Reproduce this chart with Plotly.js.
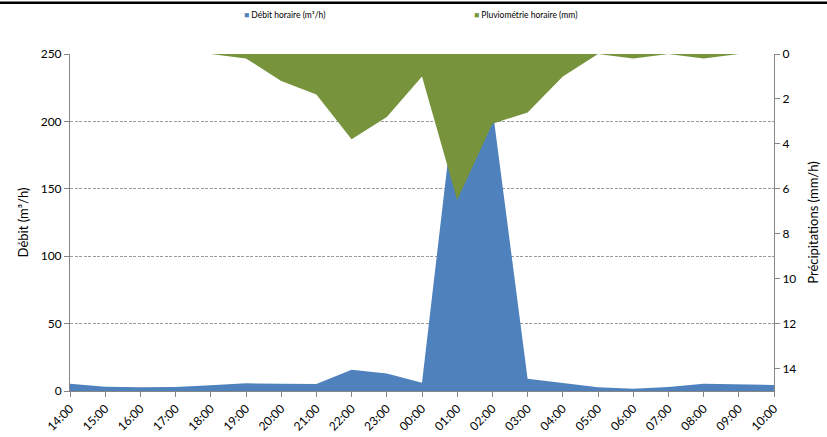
<!DOCTYPE html>
<html>
<head>
<meta charset="utf-8">
<script src="https://cdn.plot.ly/plotly-3.0.1.min.js"></script>
<style>html,body{margin:0;padding:0;background:#fff;}#chart{width:827px;height:437px;}</style>
</head>
<body>
<div id="chart"></div>
<script>
const hours = ["14:00","15:00","16:00","17:00","18:00","19:00","20:00","21:00","22:00","23:00","00:00","01:00","02:00","03:00","04:00","05:00","06:00","07:00","08:00","09:00","10:00"];
const debit = [5.4, 3.2, 2.7, 3.0, 4.2, 5.7, 5.4, 5.2, 15.8, 12.9, 6.2, 230, 210, 9.1, 5.9, 2.7, 1.7, 3.0, 5.4, 4.7, 4.5];
const pluvio = [0, 0, 0, 0, 0, 0.2, 1.2, 1.8, 3.8, 2.8, 1.0, 6.5, 3.1, 2.6, 1.0, 0, 0.2, 0, 0.2, 0, 0];
const leftTicks = [0, 50, 100, 150, 200, 250];
const rightTicks = [0, 2, 4, 6, 8, 10, 12, 14];
const seriesNames = ["Débit horaire (m³/h)", "Pluviométrie horaire (mm)"];

const blue = "#4F81BD", green = "#77933C";
const FONT = "Lato, 'Liberation Sans', sans-serif";

const traces = [
  {x: hours, y: debit, type: "scatter", mode: "lines", fill: "tozeroy",
   fillcolor: blue, line: {width: 0, color: blue}, name: seriesNames[0], yaxis: "y", hoverinfo: "x+y"},
  {x: hours, y: pluvio, type: "scatter", mode: "lines", fill: "tozeroy",
   fillcolor: green, line: {width: 0, color: green}, name: seriesNames[1], yaxis: "y2", hoverinfo: "x+y"}
];

const L = 70, R = 53, T = 54, B = 46, W = 827, H = 437;
const pw = W - L - R, ph = H - T - B;
const px = v => (v - L) / pw;
const py = v => (H - B - v) / ph;

const layout = {
  width: W, height: H,
  margin: {l: L, r: R, t: T, b: B, pad: 0},
  paper_bgcolor: "#fff", plot_bgcolor: "#fff",
  font: {family: FONT, size: 12, color: "#000"},
  showlegend: false,
  xaxis: {
    type: "category", range: [0, hours.length - 1], autorange: false,
    tickangle: -45, ticks: "outside", ticklen: 5, tickcolor: "#868686",
    showline: true, linecolor: "#868686", linewidth: 1,
    showgrid: false, zeroline: false, tickfont: {size: 12, family: FONT}
  },
  yaxis: {
    range: [0, 250], autorange: false, tickvals: leftTicks,
    ticks: "outside", ticklen: 5, tickcolor: "#868686",
    showline: true, linecolor: "#868686", linewidth: 1,
    showgrid: true, gridcolor: "#9a9a9a", griddash: "3px,1.5px", gridwidth: 1,
    zeroline: false, tickfont: {size: 12, family: FONT},
    title: {text: "Débit (m³/h)", font: {size: 13, family: FONT}, standoff: 9}
  },
  yaxis2: {
    overlaying: "y", side: "right", range: [15, 0], autorange: false,
    tickvals: rightTicks, ticks: "outside", ticklen: 5, tickcolor: "#868686",
    showline: true, linecolor: "#868686", linewidth: 1,
    showgrid: false, zeroline: false, tickfont: {size: 12, family: FONT},
    title: {text: "Précipitations (mm/h)", font: {size: 13, family: FONT}, standoff: 13}
  },
  shapes: [
    {type: "line", xref: "paper", yref: "paper", x0: px(0), x1: px(W), y0: py(2.7), y1: py(2.7),
     line: {color: "#000", width: 2.5}}
  ],
  annotations: [
    {xref: "paper", yref: "paper", x: px(242), y: py(15), xanchor: "left", yanchor: "middle", showarrow: false,
     text: "<span style='color:" + blue + "'>■</span> " + seriesNames[0], font: {size: 8.5, family: FONT}},
    {xref: "paper", yref: "paper", x: px(472), y: py(15), xanchor: "left", yanchor: "middle", showarrow: false,
     text: "<span style='color:" + green + "'>■</span> " + seriesNames[1], font: {size: 8.5, family: FONT}}
  ]
};

Plotly.newPlot("chart", traces, layout, {displayModeBar: false, staticPlot: true});
</script>
</body>
</html>
